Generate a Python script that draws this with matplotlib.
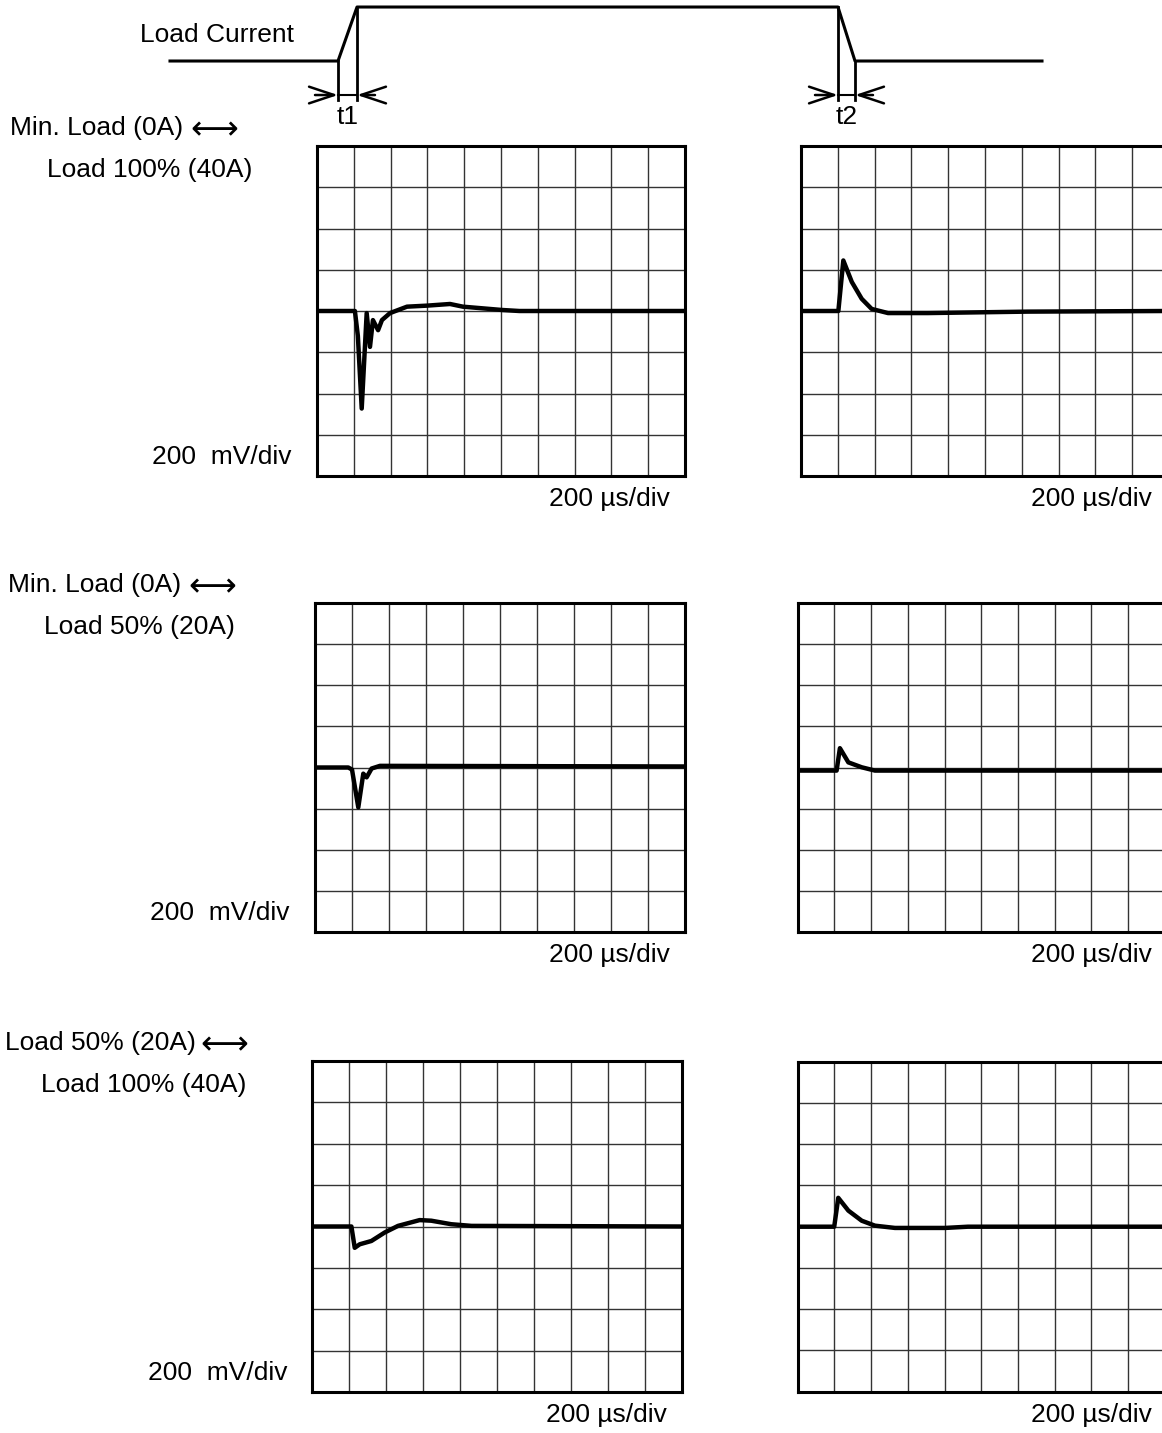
import matplotlib
matplotlib.use("Agg")
import matplotlib.pyplot as plt

W, H = 1162, 1433

# scope traces: time in us (200 us/div), voltage deviation in mV (200 mV/div)
r1_rise_t = [0, 206, 222, 243, 270, 288, 304, 332, 353, 397, 489, 598, 723, 793, 1005, 1100, 2000]
r1_rise_v = [0, 0, -120, -473, -10, -174, -44, -93, -44, -10, 21, 26, 34, 21, 5, 0, 0]
r1_fall_t = [0, 203, 230, 276, 330, 384, 473, 690, 1234, 2000]
r1_fall_v = [0, 0, 245, 141, 59, 10, -10, -10, -3, 0]

r2_rise_t = [0, 180, 200, 234, 261, 279, 306, 351, 2000]
r2_rise_v = [0, 0, -10, -194, -30, -48, -5, 8, 5]
r2_fall_t = [0, 212, 230, 276, 349, 421, 2000]
r2_fall_v = [-15, -15, 94, 25, 1, -15, -15]

r3_rise_t = [0, 213, 231, 258, 321, 393, 465, 582, 645, 753, 862, 2000]
r3_rise_v = [0, 0, -103, -86, -70, -29, 3, 31, 28, 11, 3, 0]
r3_fall_t = [0, 199, 221, 276, 349, 421, 530, 803, 928, 2000]
r3_fall_v = [0, 0, 140, 78, 29, 5, -6, -6, 0, 0]

# load current schematic (arbitrary time units, 0 = min, 1 = max)
load_t = [170, 338, 357, 838, 855, 1042]
load_i = [0, 0, 1, 1, 0, 0]

row_labels = [("Min. Load (0A)", "Load 100% (40A)"),
              ("Min. Load (0A)", "Load 50% (20A)"),
              ("Load 50% (20A)", "Load 100% (40A)")]

FONT = ["Liberation Sans", "DejaVu Sans"]
FS = 19

fig = plt.figure(figsize=(W / 100, H / 100), dpi=100)


def px_rect(left, top, w, h):
    return [left / W, 1 - (top + h) / H, w / W, h / H]


def ftext(x, y, s, ha="left", **kw):
    return fig.text(x / W, 1 - y / H, s, ha=ha, va="center", fontsize=FS, family=FONT, **kw)


def scope(rect, t, v):
    ax = fig.add_axes(px_rect(*rect))
    ax.set_xlim(0, 2000)
    ax.set_ylim(-800, 800)
    for k in range(1, 10):
        ax.axvline(k * 200, color="#333333", lw=1.0, zorder=1)
    for k in range(1, 8):
        ax.axhline(-800 + k * 200, color="#333333", lw=1.0, zorder=1)
    ax.plot(t, v, color="black", lw=3.2, zorder=3, solid_joinstyle="round")
    ax.set_xticks([])
    ax.set_yticks([])
    for sp in ax.spines.values():
        sp.set_linewidth(2.2)
        sp.set_color("black")
    return ax


# top schematic
ax_top = fig.add_axes(px_rect(0, 0, W, 140))
ax_top.set_xlim(0, W)
ax_top.set_ylim(-1.463, 1.13)
ax_top.axis("off")
ax_top.plot(load_t, load_i, color="black", lw=2.2)
dim_y = -0.63
bot_y = -0.72
for x0, x1 in [(load_t[1], load_t[2]), (load_t[3], load_t[4])]:
    for x, i in [(x0, load_i[load_t.index(x0)]), (x1, load_i[load_t.index(x1)])]:
        ax_top.plot([x, x], [i, bot_y], color="black", lw=2.0)
    ax_top.plot([x0, x1], [dim_y, dim_y], color="black", lw=1.5)
    ax_top.annotate("", xy=(x0, dim_y), xytext=(x0 - 23, dim_y),
                    arrowprops=dict(arrowstyle="->, head_length=0.9, head_width=0.3",
                                    lw=1.8, color="black", shrinkA=0, shrinkB=0, mutation_scale=20))
    ax_top.annotate("", xy=(x1, dim_y), xytext=(x1 + 18, dim_y),
                    arrowprops=dict(arrowstyle="->, head_length=0.9, head_width=0.3",
                                    lw=1.8, color="black", shrinkA=0, shrinkB=0, mutation_scale=20))
ax_top.text((load_t[1] + load_t[2]) / 2, -1.04, "t1", ha="center", va="center", fontsize=FS, family=FONT)
ax_top.text((load_t[3] + load_t[4]) / 2, -1.04, "t2", ha="center", va="center", fontsize=FS, family=FONT)
ftext(140, 35, "Load Current")

# scope panels (left, top, width, height in px)
rows = [
    ((317, 146, 368, 330), (801, 146, 368, 330), r1_rise_t, r1_rise_v, r1_fall_t, r1_fall_v),
    ((315, 603, 370, 329), (797.7, 603, 367, 329), r2_rise_t, r2_rise_v, r2_fall_t, r2_fall_v),
    ((312, 1061, 370, 331), (797.7, 1061.7, 367, 330), r3_rise_t, r3_rise_v, r3_fall_t, r3_fall_v),
]
label_y = [(128, 170), (585, 627), (1043, 1085)]
label_x = [(10, 47), (8, 44), (5, 41)]
arrow_x = [190, 188, 200]

for n, (rl, rr, ta, va, tb, vb) in enumerate(rows):
    scope(rl, ta, va)
    scope(rr, tb, vb)
    l1, l2 = row_labels[n]
    ftext(label_x[n][0], label_y[n][0], l1)
    fig.text(arrow_x[n] / W, 1 - (label_y[n][0] + 2) / H, "\u27f7", ha="left", va="center",
             fontsize=24, family=["DejaVu Sans"])
    ftext(label_x[n][1], label_y[n][1], l2)
    bottom = rl[1] + rl[3]
    ftext(rl[0] - 25, bottom - 19, "200  mV/div", ha="right")
    ftext(rl[0] + rl[2] - 15, bottom + 23, "200 \u00b5s/div", ha="right")
    ftext(1152, bottom + 23, "200 \u00b5s/div", ha="right")

fig.savefig("out.png", dpi=100)
